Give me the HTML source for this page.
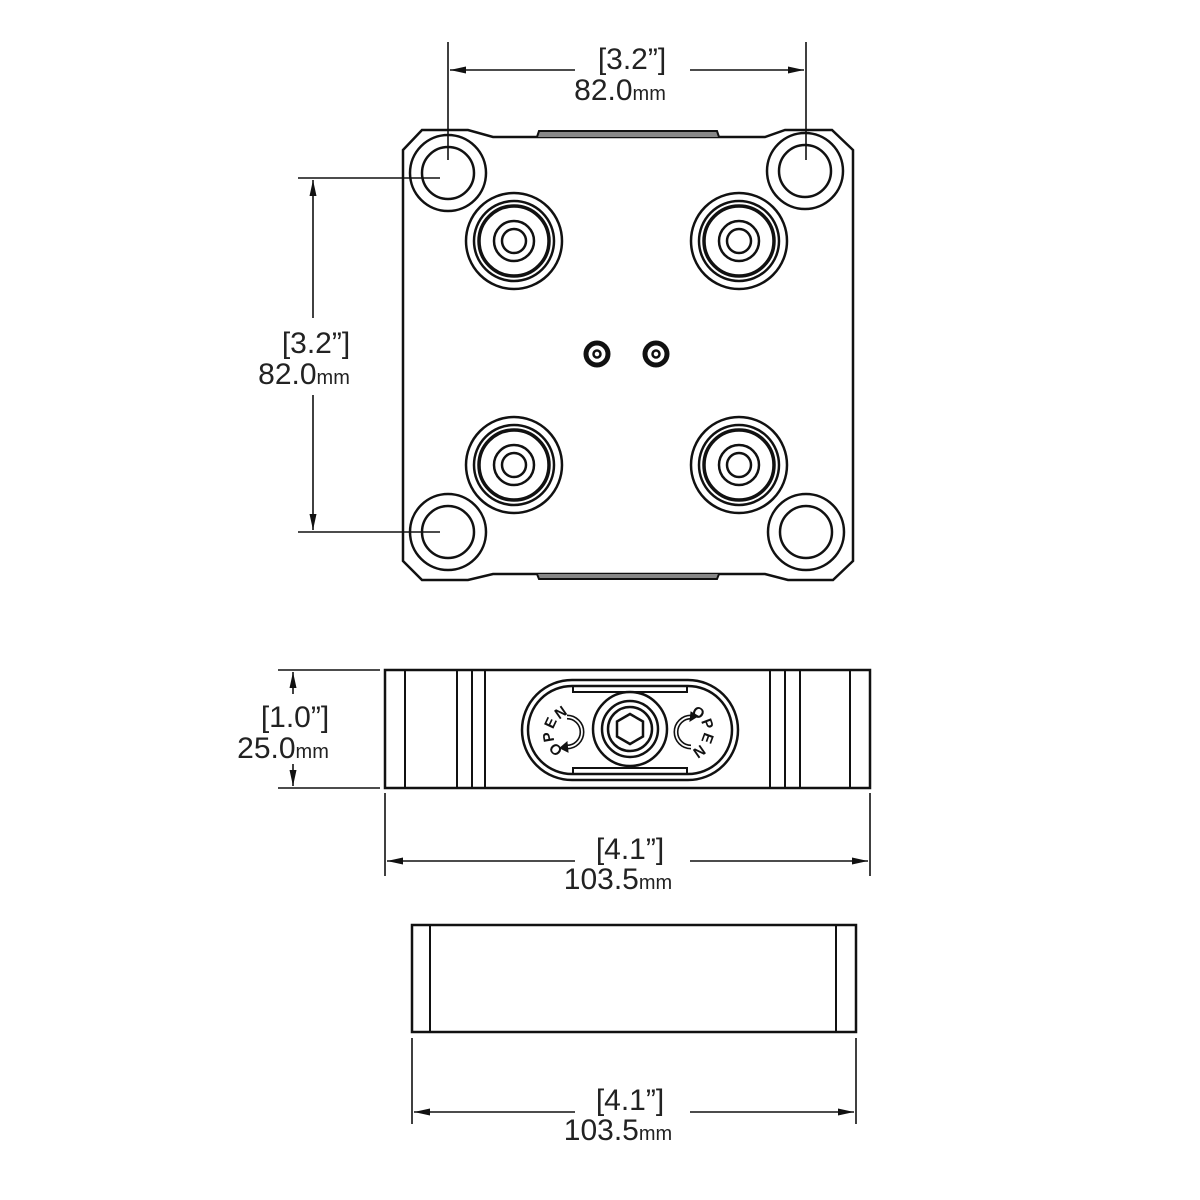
<!DOCTYPE html>
<html><head><meta charset="utf-8"><style>
body{margin:0;background:#fff}
svg{display:block}
text{font-family:"Liberation Sans",sans-serif;fill:#222}
.o{font-size:15px;font-weight:bold;text-anchor:middle;dominant-baseline:central;fill:#111}
</style></head><body>
<svg width="1200" height="1200" viewBox="0 0 1200 1200" xmlns="http://www.w3.org/2000/svg">
<defs>
<marker id="a" viewBox="0 0 16 8" refX="16" refY="4" markerWidth="16" markerHeight="8" markerUnits="userSpaceOnUse" orient="auto-start-reverse"><path d="M0,0.5 L16,4 L0,7.5 Z" fill="#111"/></marker>
</defs>
<g fill="none" stroke="#111" stroke-width="2.5">
<path d="M403,150 L422,130 L468,130 L493,137 L765,137 L785,130 L832,130 L853,150 L853,561 L833,580 L788,580 L765,574 L493,574 L468,580 L422,580 L403,561 Z"/>
<path d="M537,137 L539,131 L717,131 L719,137" fill="#888" stroke-width="2"/>
<path d="M537,574 L539,579 L717,579 L719,574" fill="#888" stroke-width="2"/>
<circle cx="448" cy="173" r="38"/><circle cx="448" cy="173" r="26"/>
<circle cx="805" cy="171" r="38"/><circle cx="805" cy="171" r="26"/>
<circle cx="448" cy="532" r="38"/><circle cx="448" cy="532" r="26"/>
<circle cx="806" cy="532" r="38"/><circle cx="806" cy="532" r="26"/>
<g id="b">
<circle cx="514" cy="241" r="48"/><circle cx="514" cy="241" r="40"/><circle cx="514" cy="241" r="35" stroke-width="3.5"/><circle cx="514" cy="241" r="20"/><circle cx="514" cy="241" r="12"/>
</g>
<use href="#b" x="225" y="0"/>
<use href="#b" x="0" y="224"/>
<use href="#b" x="225" y="224"/>
<circle cx="597" cy="354" r="11" stroke-width="5"/><circle cx="597" cy="354" r="3.5"/>
<circle cx="656" cy="354" r="11" stroke-width="5"/><circle cx="656" cy="354" r="3.5"/>
<rect x="385" y="670" width="485" height="118"/>
<path d="M405,670V788M457,670V788M472,670V788M485,670V788M770,670V788M785,670V788M800,670V788M850,670V788" stroke-width="2"/>
<rect x="522" y="680" width="216" height="100" rx="50"/>
<rect x="528" y="686" width="204" height="88" rx="44"/>
<path d="M573,686V692H687V686M573,774V768H687V774" stroke-width="2"/>
<circle cx="630" cy="729" r="37"/><circle cx="630" cy="729" r="28"/>
<circle cx="630" cy="729" r="22"/>
<path d="M630,714 L643,721.5 L643,736.5 L630,744 L617,736.5 L617,721.5 Z"/>
<path d="M567,717 A15,15 0 1 1 567,747" stroke-width="5"/>
<path d="M567,717 A15,15 0 1 1 567,747" stroke="#fff" stroke-width="1.8"/>
<path d="M691,717 A15,15 0 1 0 691,747" stroke-width="5"/>
<path d="M691,717 A15,15 0 1 0 691,747" stroke="#fff" stroke-width="1.8"/>
<path d="M567,742 L560,748 L568,752 Z M691,712 L698,716 L690,721 Z" fill="#111" stroke-width="1"/>
<rect x="412" y="925" width="444" height="107"/>
<path d="M430,925V1032M836,925V1032" stroke-width="2"/>
</g>
<text class="o" x="556" y="749" transform="rotate(-135 556 749)">O</text>
<text class="o" x="549" y="737" transform="rotate(-100 549 737)">P</text>
<text class="o" x="551" y="723" transform="rotate(-65 551 723)">E</text>
<text class="o" x="561" y="713" transform="rotate(-35 561 713)">N</text>
<text class="o" x="698" y="713" transform="rotate(35 698 713)">O</text>
<text class="o" x="707" y="724" transform="rotate(70 707 724)">P</text>
<text class="o" x="707" y="738" transform="rotate(110 707 738)">E</text>
<text class="o" x="699" y="751" transform="rotate(145 699 751)">N</text>
<g stroke="#111" stroke-width="1.6" fill="none">
<path d="M448,42V160M806,42V160"/>
<path d="M450,70H575" marker-start="url(#a)"/>
<path d="M690,70H804" marker-end="url(#a)"/>
<path d="M298,178H440M298,532H440"/>
<path d="M313,180V318" marker-start="url(#a)"/>
<path d="M313,395V530" marker-end="url(#a)"/>
<path d="M278,670H380M278,788H380"/>
<path d="M293,672V694" marker-start="url(#a)"/>
<path d="M293,764V786" marker-end="url(#a)"/>
<path d="M385,793V876M870,793V876"/>
<path d="M387,861H575" marker-start="url(#a)"/>
<path d="M690,861H868" marker-end="url(#a)"/>
<path d="M412,1038V1124M856,1038V1124"/>
<path d="M414,1112H575" marker-start="url(#a)"/>
<path d="M690,1112H854" marker-end="url(#a)"/>
</g>
<g font-size="30" text-anchor="middle">
<text x="632" y="69">[3.2”]</text>
<text x="620" y="100">82.0<tspan font-size="20">mm</tspan></text>
<text x="316" y="353">[3.2”]</text>
<text x="304" y="384">82.0<tspan font-size="20">mm</tspan></text>
<text x="295" y="727">[1.0”]</text>
<text x="283" y="758">25.0<tspan font-size="20">mm</tspan></text>
<text x="630" y="859">[4.1”]</text>
<text x="618" y="889">103.5<tspan font-size="20">mm</tspan></text>
<text x="630" y="1110">[4.1”]</text>
<text x="618" y="1140">103.5<tspan font-size="20">mm</tspan></text>
</g>
</svg>
</body></html>
